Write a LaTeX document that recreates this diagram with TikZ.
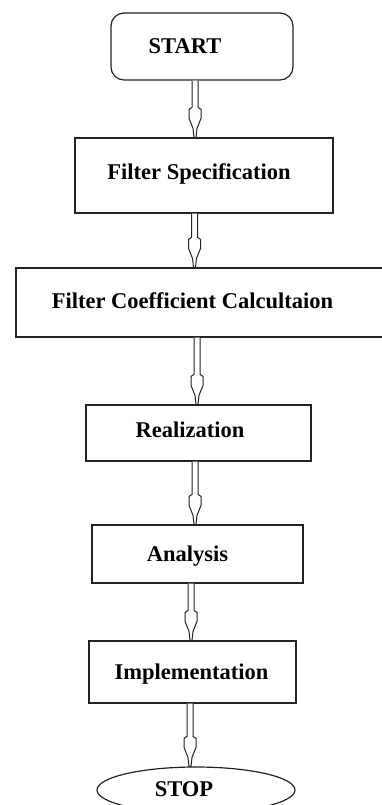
\documentclass[tikz,border=0pt]{standalone}
\usepackage{fontspec}
\setmainfont{Liberation Serif}
\usetikzlibrary{calc,shapes.geometric}
\definecolor{edge}{RGB}{35,35,35}
\newcommand\offtxt[3]{\raisebox{#2pt}{\hspace*{#1pt}#3\hspace*{-#1pt}}}
\tikzset{
  stepbox/.style={draw=edge, line width=1.2pt, rectangle, inner sep=0pt,
    font=\fontsize{22.5}{27}\selectfont\bfseries, text height=14.9pt, text depth=0pt},
  termbox/.style={stepbox, rounded corners=13pt},
  stopshape/.style={stepbox, ellipse},
  arrowline/.style={draw=edge, line width=1pt, fill=white, line join=miter}
}
\newcommand\flowarrow[3]{%
  \draw[arrowline] let \p1=(#3,0), \p2=(#1.south), \p3=(#2.north) in
    (\x1-3pt,\y2) -- (\x1-3pt,\y3+30pt) -- (\x1-6pt,\y3+28pt) -- (\x1-6pt,\y3+19pt)
    -- (\x1-2pt,\y3+9pt) -- (\x1-1pt,\y3) -- (\x1+1pt,\y3) -- (\x1+2pt,\y3+9pt)
    -- (\x1+6pt,\y3+19pt) -- (\x1+6pt,\y3+28pt) -- (\x1+3pt,\y3+30pt) -- (\x1+3pt,\y2);}
\begin{document}
\begin{tikzpicture}[x=1pt,y=-1pt]
\path[use as bounding box, clip] (0,0) rectangle (382,805);
\fill[white] (0,0) rectangle (382,805);
\node[termbox, minimum width=182pt, minimum height=67pt] (start) at (202,46.5) {\offtxt{-17}{0}{START}};
\node[stepbox, minimum width=258pt, minimum height=75pt] (spec) at (204,175.5) {\offtxt{-5}{3.5}{Filter Specification}};
\node[stepbox, minimum width=384pt, minimum height=69pt] (coef) at (208,302.5) {\offtxt{-15.5}{1.5}{Filter Coefficient Calcultaion}};
\node[stepbox, minimum width=225pt, minimum height=56pt] (real) at (198.5,433) {\offtxt{-8.5}{3}{Realization}};
\node[stepbox, minimum width=211pt, minimum height=58pt] (anal) at (197.5,554) {\offtxt{-10}{0}{Analysis}};
\node[stepbox, minimum width=207pt, minimum height=62pt] (impl) at (192.5,672) {\offtxt{-1}{0}{Implementation}};
\node[stopshape, minimum width=198pt, minimum height=46pt] (stop) at (196,790) {\offtxt{-12}{1}{STOP}};
\flowarrow{start}{spec}{195}
\flowarrow{spec}{coef}{194.5}
\flowarrow{coef}{real}{197}
\flowarrow{real}{anal}{195}
\flowarrow{anal}{impl}{191}
\flowarrow{impl}{stop}{190}
\end{tikzpicture}
\end{document}
